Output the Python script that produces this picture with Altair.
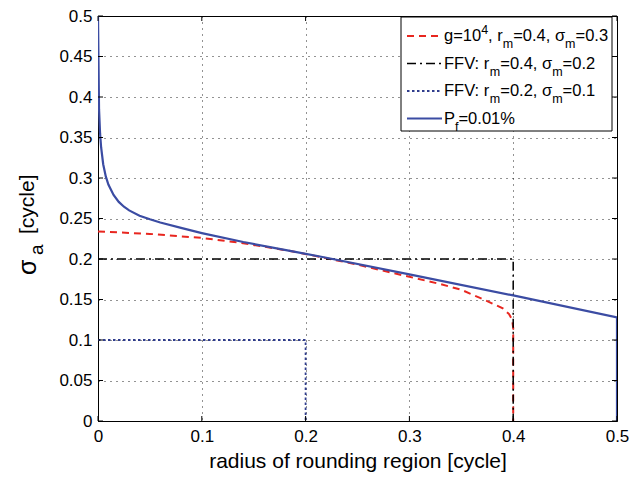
import altair as alt
import pandas as pd

# ---------------- data ----------------
pf_x = [0.0, 0.001, 0.002, 0.003, 0.005, 0.0075, 0.01, 0.015, 0.02, 0.025, 0.03, 0.04,
        0.05, 0.06, 0.08, 0.1, 0.14, 0.185, 0.22, 0.3, 0.4, 0.5, 0.5]
pf_y = [0.5, 0.385, 0.355, 0.338, 0.317, 0.302, 0.292, 0.279, 0.2705, 0.2645, 0.26, 0.2535,
        0.249, 0.245, 0.2385, 0.232, 0.221, 0.210, 0.2015, 0.181, 0.155, 0.128, 0.0]

g_x = [0.0, 0.05, 0.1, 0.137, 0.185, 0.22, 0.25, 0.3, 0.33, 0.35, 0.368, 0.38, 0.39,
       0.396, 0.399, 0.4, 0.4]
g_y = [0.234, 0.231, 0.226, 0.220, 0.210, 0.201, 0.193, 0.178, 0.169, 0.162, 0.152, 0.145,
       0.139, 0.132, 0.125, 0.115, 0.0]

ffv1_x = [0.0, 0.4, 0.4]
ffv1_y = [0.2, 0.2, 0.0]

ffv2_x = [0.0, 0.2, 0.2]
ffv2_y = [0.1, 0.1, 0.0]

x_ticks = [0, 0.1, 0.2, 0.3, 0.4, 0.5]
y_ticks = [0, 0.05, 0.1, 0.15, 0.2, 0.25, 0.3, 0.35, 0.4, 0.45, 0.5]

x_title = "radius of rounding region [cycle]"

legend_rows = [
    [("g=10", "n"), ("4", "sup"), (", r", "n"), ("m", "sub"), ("=0.4, σ", "n"), ("m", "sub"), ("=0.3", "n")],
    [("FFV: r", "n"), ("m", "sub"), ("=0.4, σ", "n"), ("m", "sub"), ("=0.2", "n")],
    [("FFV: r", "n"), ("m", "sub"), ("=0.2, σ", "n"), ("m", "sub"), ("=0.1", "n")],
    [("P", "n"), ("f", "sub"), ("=0.01%", "n")],
]

# ---------------- styling ----------------
FONT = "Liberation Sans"
W, H = 519, 405
RED = "#e8261f"
BLUE = "#3b4ca3"
NAVY = "#2f3c8c"

# Arial / Liberation Sans advance widths (per 1000 em)
ADV = {c: 556 for c in "0123456789"}
ADV.update({".": 278, ",": 278, " ": 278, "=": 584, ":": 278, "%": 889, "[": 278, "]": 278,
            "g": 556, "r": 333, "m": 833, "a": 556, "c": 500, "y": 500, "l": 222, "e": 556,
            "f": 278, "F": 611, "V": 667, "P": 667, "σ": 617})


def tw(text, size):
    return sum(ADV.get(ch, 556) for ch in text) * size / 1000.0


xs = alt.Scale(domain=[0, 0.5], nice=False, zero=False)
ys = alt.Scale(domain=[0, 0.5], nice=False, zero=False)

xaxis = alt.Axis(values=x_ticks, format="~g", title=x_title, grid=True, ticks=False,
                 labelFlush=False, labelOverlap=False, labelPadding=7, titlePadding=6)
yaxis = alt.Axis(values=y_ticks, format="~g", title=None, grid=True, ticks=False,
                 labelFlush=False, labelOverlap=False, labelPadding=6)

X = alt.X("x:Q", scale=xs, axis=xaxis)
Y = alt.Y("y:Q", scale=ys, axis=yaxis)


def df(xv, yv):
    return pd.DataFrame({"x": xv, "y": yv, "i": list(range(len(xv)))})


def line(xv, yv, color, width, dash=None):
    kw = dict(color=color, strokeWidth=width, clip=True)
    if dash:
        kw["strokeDash"] = dash
    return alt.Chart(df(xv, yv)).mark_line(**kw).encode(x=X, y=Y, order="i:Q")


one = pd.DataFrame({"k": [0]})

layers = []
# data lines
layers.append(line(g_x, g_y, RED, 2, [7, 5]))
layers.append(line(ffv1_x, ffv1_y, "black", 1.5, [9, 4, 2, 4]))
layers.append(line(ffv2_x, ffv2_y, NAVY, 1.8, [2.5, 2.5]))
layers.append(line(pf_x, pf_y, BLUE, 2.2))

# inward ticks (MATLAB style) on all four sides
xt = pd.DataFrame({"x": x_ticks})
yt = pd.DataFrame({"y": y_ticks})
layers.append(alt.Chart(xt).mark_rule(color="black", strokeWidth=1).encode(
    x=X, y=alt.value(H), y2=alt.value(H - 5)))
layers.append(alt.Chart(xt).mark_rule(color="black", strokeWidth=1).encode(
    x=X, y=alt.value(0), y2=alt.value(5)))
layers.append(alt.Chart(yt).mark_rule(color="black", strokeWidth=1).encode(
    y=Y, x=alt.value(0), x2=alt.value(5)))
layers.append(alt.Chart(yt).mark_rule(color="black", strokeWidth=1).encode(
    y=Y, x=alt.value(W), x2=alt.value(W - 5)))

# legend box
LX0, LX1, LY0, LY1 = 303, 514, 1, 115
layers.append(alt.Chart(one).mark_rect(fill="white", stroke="black", strokeWidth=1).encode(
    x=alt.value(LX0), x2=alt.value(LX1), y=alt.value(LY0), y2=alt.value(LY1)))

row_y = [20, 47.5, 75, 102.5]
samples = [(RED, 2, [7, 5]), ("black", 1.5, [9, 4, 2, 4]), (NAVY, 1.8, [2.5, 2.5]), (BLUE, 2.2, None)]
for ry, (col, sw, dash) in zip(row_y, samples):
    kw = dict(color=col, strokeWidth=sw)
    if dash:
        kw["strokeDash"] = dash
    layers.append(alt.Chart(one).mark_rule(**kw).encode(
        x=alt.value(309), x2=alt.value(344), y=alt.value(ry)))

BASE, SMALL = 16.5, 12.5
for ry, segs in zip(row_y, legend_rows):
    cx = 346
    for text, kind in segs:
        size = BASE if kind == "n" else SMALL
        dy = 0 if kind == "n" else (8 if kind == "sub" else -6)
        layers.append(alt.Chart(one).mark_text(
            text=text, font=FONT, fontSize=size, align="left", baseline="middle", color="black"
        ).encode(x=alt.value(cx), y=alt.value(ry + dy)))
        cx += tw(text, size)

# y-axis title (rotated, with subscript)
ytitle = [("σ", 25, 259, -70), ("a", 19, 239, -61), ("[cycle]", 21, 218, -70)]
for text, size, py, px in ytitle:
    layers.append(alt.Chart(one).mark_text(
        text=text, font=FONT, fontSize=size, align="left", baseline="middle", angle=270,
        color="black"
    ).encode(x=alt.value(px), y=alt.value(py)))

chart = alt.layer(*layers).properties(
    width=W, height=H,
    autosize=alt.AutoSizeParams(type="none"),
    padding={"left": 90, "top": 8, "right": 16, "bottom": 53},
).configure(
    background="white", font=FONT
).configure_view(
    stroke="black", strokeWidth=1
).configure_axis(
    domain=True, domainColor="black", domainWidth=1,
    gridColor="black", gridDash=[1, 5], gridWidth=1, gridOpacity=0.85,
    labelFont=FONT, labelFontSize=17, labelColor="black",
    titleFont=FONT, titleFontSize=21, titleColor="black", titleFontWeight="normal",
)

chart.save("out.html", embed_options={"renderer": "svg", "actions": False})
